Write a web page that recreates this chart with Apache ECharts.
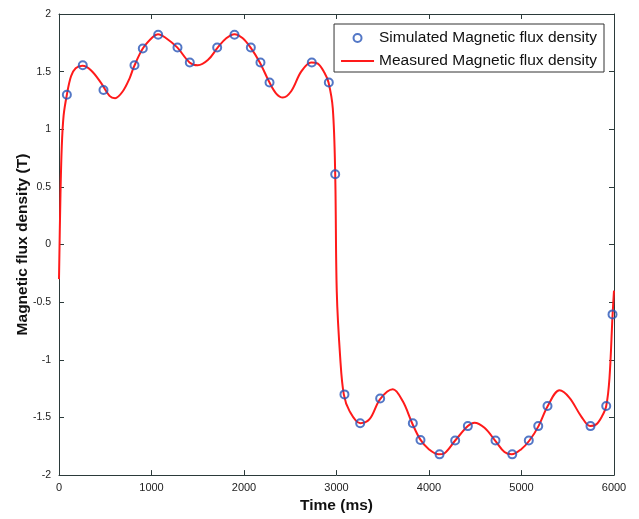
<!DOCTYPE html>
<html>
<head>
<meta charset="utf-8">
<script src="https://cdn.jsdelivr.net/npm/echarts@6/dist/echarts.min.js"></script>
<style>html,body{margin:0;padding:0;background:#fff;}#c{width:639px;height:519px;}</style>
</head>
<body>
<div id="c"></div>
<script>
var simX = [85,257,481,816,906,1072,1281,1414,1710,1897,2074,2178,2276,2733,2917,2986,3086,3256,3472,3825,3908,4114,4283,4420,4719,4900,5079,5181,5281,5746,5916,5984];
var simY = [1.30,1.555,1.34,1.555,1.70,1.82,1.71,1.58,1.71,1.82,1.71,1.58,1.405,1.58,1.405,0.61,-1.30,-1.55,-1.336,-1.55,-1.695,-1.82,-1.70,-1.575,-1.70,-1.82,-1.70,-1.575,-1.40,-1.575,-1.40,-0.606];
var measX = [0,15,30,50,85,130,180,254,348,456,546,607,690,762,809,906,1014,1070,1159,1278,1411,1500,1609,1717,1808,1897,1987,2070,2171,2276,2348,2420,2510,2618,2726,2798,2870,2914,2960,2986,3003,3040,3079,3141,3256,3357,3472,3609,3717,3818,3905,3998,4103,4168,4283,4420,4492,4600,4715,4816,4895,4997,5086,5184,5284,5411,5519,5645,5743,5808,5870,5916,5951,5984,6000];
var measY = [-0.30,0.40,0.85,1.12,1.30,1.46,1.53,1.55,1.51,1.40,1.29,1.27,1.33,1.44,1.54,1.70,1.80,1.825,1.79,1.71,1.58,1.555,1.60,1.71,1.79,1.825,1.79,1.71,1.58,1.405,1.31,1.275,1.33,1.50,1.58,1.57,1.49,1.405,1.18,0.61,-0.41,-0.98,-1.30,-1.445,-1.55,-1.515,-1.34,-1.255,-1.36,-1.55,-1.69,-1.775,-1.82,-1.81,-1.70,-1.575,-1.545,-1.59,-1.70,-1.80,-1.82,-1.775,-1.70,-1.575,-1.40,-1.265,-1.33,-1.49,-1.575,-1.56,-1.49,-1.40,-1.16,-0.62,-0.40];
var seriesNames = ['Simulated Magnetic flux density','Measured Magnetic flux density'];

var simData = simX.map(function(x,i){return [x, simY[i]];});
var measData = measX.map(function(x,i){return [x, measY[i]];});

var axisColor = '#2b3a3a';
var font = 'Liberation Sans, Arial, sans-serif';
var lineIcon = 'path://M0,3 L33,3 L33,5 L0,5 Z M0,0 L0.01,0 L0,0.01 Z M33,8 L32.99,8 L33,7.99 Z';
function plain(v){ return String(v); }
var chart = echarts.init(document.getElementById('c'), null, {renderer:'canvas'});
chart.setOption({
  backgroundColor:'#ffffff',
  animation:false,
  grid:{left:59,right:25,top:14,bottom:41},
  legend:{
    orient:'vertical', right:35, top:24,
    backgroundColor:'#fff', borderColor:'#333', borderWidth:1,
    padding:[6,7,3,7], itemGap:7, itemWidth:33, itemHeight:8,
    textStyle:{fontFamily:font,fontSize:15.5,color:'#111'},
    data:[{name:seriesNames[0]},{name:seriesNames[1], icon:lineIcon, itemStyle:{color:'#ff1a1a'}}]
  },
  xAxis:[{
    type:'value', min:0, max:6000, interval:1000, position:'bottom',
    name:'Time (ms)', nameLocation:'middle', nameGap:19,
    nameTextStyle:{fontFamily:font,fontSize:15.5,fontWeight:'bold',color:'#111'},
    axisLine:{show:true,onZero:false,lineStyle:{color:axisColor,width:1}},
    axisTick:{show:true,inside:true,length:5,lineStyle:{color:axisColor}},
    axisLabel:{fontFamily:font,fontSize:11,color:'#222',margin:7,formatter:plain},
    splitLine:{show:false}
  },{
    type:'value', min:0, max:6000, interval:1000, position:'top',
    axisLine:{show:true,onZero:false,lineStyle:{color:axisColor,width:1}},
    axisTick:{show:true,inside:true,length:5,lineStyle:{color:axisColor}},
    axisLabel:{show:false}, splitLine:{show:false}
  }],
  yAxis:[{
    type:'value', min:-2, max:2, interval:0.5, position:'left',
    name:'Magnetic flux density (T)', nameLocation:'middle', nameGap:28, nameMoveOverlap:false,
    nameTextStyle:{fontFamily:font,fontSize:15.5,fontWeight:'bold',color:'#111'},
    axisLine:{show:true,onZero:false,lineStyle:{color:axisColor,width:1}},
    axisTick:{show:true,inside:true,length:5,lineStyle:{color:axisColor}},
    axisLabel:{fontFamily:font,fontSize:10.5,color:'#222',margin:8,formatter:plain},
    splitLine:{show:false}
  },{
    type:'value', min:-2, max:2, interval:0.5, position:'right',
    axisLine:{show:true,onZero:false,lineStyle:{color:axisColor,width:1}},
    axisTick:{show:true,inside:true,length:5,lineStyle:{color:axisColor}},
    axisLabel:{show:false}, splitLine:{show:false}
  }],
  series:[{
    name:seriesNames[1], type:'line', data:measData, smooth:0.35,
    showSymbol:false, symbol:'none', z:2,
    lineStyle:{color:'#ff1a1a',width:2}, itemStyle:{color:'#ff1a1a'}
  },{
    name:seriesNames[0], type:'scatter', data:simData, symbol:'circle', symbolSize:8, z:3,
    itemStyle:{color:'rgba(0,0,0,0)',borderColor:'#2855b8',borderWidth:2}
  }]
});
</script>
</body>
</html>
